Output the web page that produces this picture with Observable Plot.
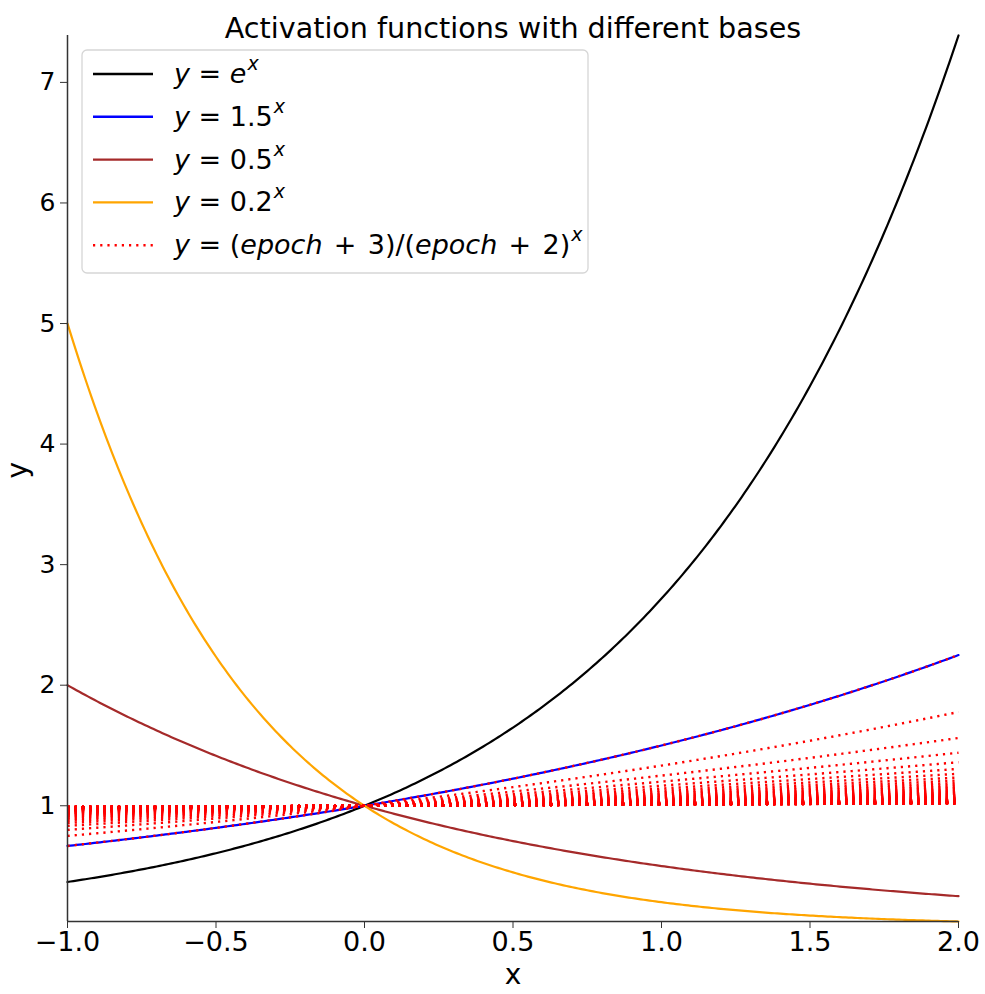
<!DOCTYPE html>
<html>
<head>
<meta charset="utf-8">
<script src="https://cdn.jsdelivr.net/npm/d3@7"></script>
<script src="https://cdn.jsdelivr.net/npm/@observablehq/plot@0.6"></script>
<style>
  body { margin: 0; background: #fff; }
  svg { font-family: "DejaVu Sans", sans-serif; }
</style>
</head>
<body>
<div id="chart"></div>
<script>
// ---- data ----
const titleText = "Activation functions with different bases";
const seriesNames = ["e", "1.5", "0.5", "0.2"];
const seriesBases = [Math.E, 1.5, 0.5, 0.2];
const seriesColors = ["#000000", "#0000ff", "#a52a2a", "#ffa500"];
const epochs = d3.range(0, 100);           // epoch = 0 .. 99
const xSamples = d3.range(0, 301).map(i => -1 + i * 0.01); // x grid on [-1, 2]
const xTicks = [-1.0, -0.5, 0.0, 0.5, 1.0, 1.5, 2.0];
const yTicks = [1, 2, 3, 4, 5, 6, 7];

// legend labels: segments [text, italic?, superscript?]
const legendLabels = [
  [["y", 1, 0], [" = ", 0, 0], ["e", 1, 0], ["x", 1, 1]],
  [["y", 1, 0], [" = 1.5", 0, 0], ["x", 1, 1]],
  [["y", 1, 0], [" = 0.5", 0, 0], ["x", 1, 1]],
  [["y", 1, 0], [" = 0.2", 0, 0], ["x", 1, 1]],
  [["y", 1, 0], [" = (", 0, 0], ["epoch", 1, 0], [" \u200A+\u200A 3)/(", 0, 0], ["epoch", 1, 0], [" \u200A+\u200A 2)", 0, 0], ["x", 1, 1]]
];
const legendColors = ["#000000", "#0000ff", "#a52a2a", "#ffa500", "#ff0000"];
const legendDashed = [false, false, false, false, true];

// ---- tables built from the arrays ----
const mainRows = [];
seriesBases.forEach((b, i) => {
  xSamples.forEach(x => mainRows.push({x, y: Math.pow(b, x), k: seriesNames[i]}));
});
const epochRows = [];
epochs.forEach(ep => {
  const b = (ep + 3) / (ep + 2);
  xSamples.forEach(x => epochRows.push({x, y: Math.pow(b, x), epoch: ep}));
});

const yMin = Math.pow(0.2, 2), yMax = Math.pow(Math.E, 2);
const dotDash = "2.2,5";

const plot = Plot.plot({
  width: 985,
  height: 994,
  marginLeft: 67,
  marginRight: 27,
  marginTop: 35,
  marginBottom: 73,
  style: {fontFamily: "DejaVu Sans, sans-serif", background: "#fff", overflow: "visible"},
  x: {domain: [-1, 2]},
  y: {domain: [yMin, yMax]},
  color: {domain: seriesNames, range: seriesColors},
  marks: [
    Plot.line(mainRows, {x: "x", y: "y", z: "k", stroke: "k", strokeWidth: 2.2}),
    Plot.line(epochRows, {x: "x", y: "y", z: "epoch", stroke: "#ff0000", strokeWidth: 2.4, strokeDasharray: dotDash, strokeLinecap: "butt"}),
    Plot.ruleX([-1], {stroke: "#333", strokeWidth: 1.5}),
    Plot.ruleY([yMin], {stroke: "#333", strokeWidth: 1.5}),
    Plot.axisX({ticks: xTicks, tickFormat: d3.format(".1f"), tickSize: 7, tickPadding: 3, fontSize: 27, label: null, stroke: "#333", fill: "#000"}),
    Plot.axisY({ticks: yTicks, tickFormat: d3.format("d"), tickSize: 7, tickPadding: 5, fontSize: 25, label: null, stroke: "#333", fill: "#000"}),
    Plot.text([titleText], {frameAnchor: "top", dy: -18, fontSize: 28.6, fill: "#000"}),
    Plot.text(["x"], {frameAnchor: "bottom", dy: 62, fontSize: 28, fill: "#000"}),
    Plot.text(["y"], {frameAnchor: "left", dx: -49, rotate: -90, fontSize: 28, fill: "#000"})
  ]
});

document.getElementById("chart").appendChild(plot);

// ---- legend (drawn into the same SVG) ----
const svg = d3.select(plot);
const lg = svg.append("g").attr("class", "legend").attr("text-anchor", "start");
const boxX = 82, boxY = 50, boxW = 506, boxH = 223, rowH = 42.8, firstRow = 74;
lg.append("rect")
  .attr("x", boxX).attr("y", boxY).attr("width", boxW).attr("height", boxH)
  .attr("rx", 5).attr("fill", "#fff").attr("fill-opacity", 0.85)
  .attr("stroke", "#d6d6d6").attr("stroke-width", 1.3);
legendLabels.forEach((segs, i) => {
  const cy = firstRow + i * rowH;
  lg.append("line")
    .attr("x1", 93).attr("x2", 153).attr("y1", cy).attr("y2", cy)
    .attr("stroke", legendColors[i]).attr("stroke-width", 2.4)
    .attr("stroke-dasharray", legendDashed[i] ? dotDash : null);
  const t = lg.append("text")
    .attr("x", 174).attr("y", cy + 9)
    .attr("text-anchor", "start")
    .attr("font-size", 27).attr("fill", "#000")
    .attr("xml:space", "preserve").style("white-space", "pre");
  segs.forEach(([s, it, sup]) => {
    const ts = t.append("tspan").text(s);
    if (it) ts.attr("font-style", "italic");
    if (sup) ts.attr("font-size", 19).attr("dy", -13).attr("dx", 1);
  });
});
</script>
</body>
</html>
